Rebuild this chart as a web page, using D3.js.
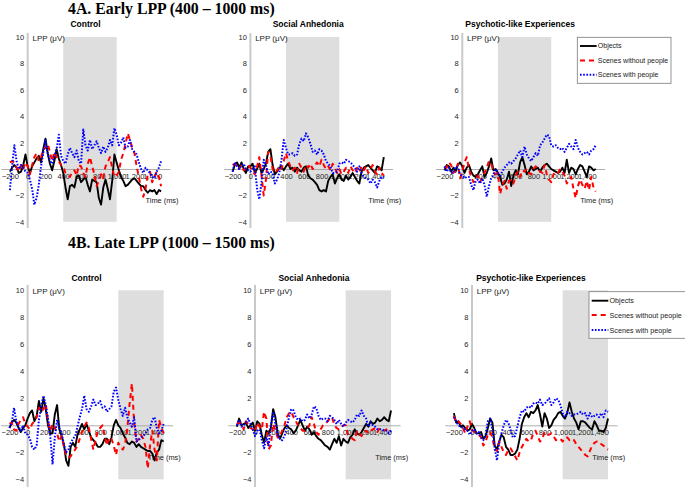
<!DOCTYPE html>
<html><head><meta charset="utf-8">
<script src="https://cdn.jsdelivr.net/npm/d3@7"></script>
<style>body{margin:0;background:#fff} svg{display:block}</style>
</head><body><svg id="c" width="685" height="487"></svg>
<script>
// ---------------- data ----------------
const times = [-200,-175,-150,-125,-100,-75,-50,-25,0,25,50,75,100,125,150,175,200,225,250,275,300,325,350,375,400,425,450,475,500,525,550,575,600,625,650,675,700,725,750,775,800,825,850,875,900,925,950,975,1000,1025,1050,1075,1100,1125,1150,1175,1200,1225,1250,1275,1300,1325,1350,1375,1400,1425,1450,1475,1500];
const groups = ["Control", "Social Anhedonia", "Psychotic-like Experiences"];
const conditions = ["Objects", "Scenes without people", "Scenes with people"];
const rowTitles = ["4A. Early LPP (400 \u2013 1000 ms)", "4B. Late LPP (1000 \u2013 1500 ms)"];
const xTicks = [-200,0,200,400,600,800,1000,1200,1400];
const yTicks = [-4,-2,2,4,6,8,10];
const earlyWindow = [400, 1000];
const lateWindow = [1000, 1500];
const yLabel = "LPP (\u03bcV)";
const xLabel = "Time (ms)";

const earlyControlObjects = [-0.2,0.1,0.3,0.1,-0.3,-0.2,0.3,1.1, 0.2,-0.3,0.2,0.5,0.8,1.0,0.5,1.5, 2.3,1.2,0.4,-0.1,0.6,1.5,0.8,0.3, -0.3,-1.4,-2.3,-1.3,-1.2,-1.4,-0.6,-0.5, -1.0,-0.8,-0.6,-1.2,-1.7,-0.8,-0.9,-1.0, -2.2,-2.7,-1.4,-0.8,-1.5,-2.3,-0.9,1.1, 0.5,-0.1,-0.6,-0.9,-1.3,-1.2,-1.0,-0.8, -0.7,-0.9,-1.1,-1.3,-1.3,-1.6,-1.8,-1.6, -1.7,-1.6,-1.9,-1.6,-1.7];
const earlyControlNoPeople = [0.5,0.6,0.5,0.1,-0.2,0.3,0.0,0.5, 0.2,-0.4,0.3,0.9,1.2,0.6,0.9,1.5, 1.6,1.9,1.3,0.6,1.3,0.9,0.6,0.3, 0.2,-0.3,-0.5,-0.6,-0.2,-0.1,-0.5,0.3, 0.2,-0.3,-0.6,0.4,0.9,0.2,-0.4,-1.3, -0.9,-0.4,-0.7,0.2,0.5,0.9,0.1,-0.6, -0.5,-0.2,0.7,1.2,1.9,2.7,2.2,1.6, 1.2,0.2,-0.6,-1.5,-2.1,-1.5,-0.4,-0.2, -1.0,-0.6,-0.2,-0.6,-1.3];
const earlyControlPeople = [-1.6,0.2,1.8,0.6,0.0,0.3,0.1,-0.2, -0.3,-0.8,-1.5,-2.7,-2.2,-1.2,0.2,1.2, 2.2,1.2,0.6,0.4,1.0,1.5,2.6,1.0, 0.6,0.4,1.1,1.6,1.2,0.9,1.4,0.6, 0.4,3.0,1.8,1.4,2.2,1.5,1.8,2.1, 1.6,1.2,1.7,1.3,1.6,2.2,1.8,3.1, 2.6,1.8,2.0,2.4,1.6,1.7,2.2,1.5, 1.3,1.1,0.5,0.0,-0.3,0.1,-0.1,-0.3, -0.6,-0.7,-0.2,0.1,0.6];

const earlySAObjects = [-0.2,0.3,0.5,0.1,0.5,0.0,-0.3,0.2, 0.2,0.4,-0.3,0.0,0.4,-0.3,0.0,0.4, 1.3,1.5,0.3,-0.4,-0.2,0.1,0.2,-0.1, 0.2,0.4,0.0,0.1,-0.2,0.1,-0.1,-0.2, 0.1,0.2,-0.5,-0.7,-0.8,-1.0,-1.2,-1.6, -1.7,-1.6,-1.7,-0.9,-0.6,-0.4,-1.1,-0.7, -0.4,-0.8,-0.9,-0.5,-0.8,-0.6,-0.3,-0.6, -0.9,-1.1,-0.2,0.1,0.2,0.3,0.1,-0.1, -0.3,0.2,0.1,-0.1,0.9];
const earlySANoPeople = [0.3,0.4,0.2,0.0,0.3,-0.1,0.1,0.3, 0.1,-0.2,-0.4,0.2,0.9,-0.5,-2.0,-0.8, 1.3,1.0,0.0,-0.3,-0.1,0.2,0.0,0.6, 1.2,0.6,0.2,-0.1,0.1,-0.3,0.4,0.1, -0.2,0.3,0.1,0.4,0.0,0.3,0.5,0.2, 0.7,0.3,0.0,0.2,-0.1,0.4,0.1,-0.3, 0.0,-0.4,-0.2,0.1,-0.3,0.2,-0.1,-0.3, 0.1,-0.2,0.2,-0.1,0.2,-0.3,0.0,0.3, -0.2,-0.4,0.1,-0.3,-0.5];
const earlySAPeople = [-0.2,0.5,0.2,0.0,0.3,0.4,0.0,-0.1, -0.2,0.0,0.2,-1.5,-2.3,-1.0,0.7,0.3, -0.4,-0.2,-0.3,-1.1,-0.8,-0.3,0.7,2.2, 1.6,1.1,1.1,1.2,1.0,1.1,1.9,2.3, 2.1,2.7,2.4,1.9,1.3,1.4,1.1,1.5, 1.4,1.1,0.6,0.4,0.2,-0.3,-0.3,-0.2, 0.4,0.5,0.4,0.7,0.6,0.5,0.3,0.1, -0.2,0.2,-0.3,-0.6,-0.7,-0.8,-1.1,-0.8, -1.0,-1.4,-0.9,-0.6,-0.6];

const earlyPLEObjects = [-0.1,0.3,0.2,-0.2,0.1,-0.2,0.3,0.5, 0.2,-0.3,0.1,0.3,-0.2,-0.5,-0.6,-0.4, -0.1,0.2,-0.6,-0.3,0.2,0.8,-0.1,0.0, -0.3,-0.6,-1.2,-1.1,-0.8,-0.2,-1.3,-0.5, -0.1,-0.4,0.5,0.9,0.3,-0.4,-0.2,0.2, -0.1,0.0,0.1,-0.2,0.1,0.3,0.4,0.2, 0.0,-0.1,-0.2,-0.3,-0.2,0.1,-0.3,0.7, -0.3,0.1,0.0,-0.4,0.0,0.3,0.2,-0.2, -0.6,0.2,0.1,-0.1,0.0];
const earlyPLENoPeople = [0.2,0.1,0.5,0.3,-0.3,-0.1,0.4,-0.7, -0.2,0.5,0.9,0.0,-0.6,-1.0,-0.8,-0.5, -1.0,-0.6,-0.3,0.1,0.6,0.4,-0.2,-0.4, -0.3,-1.9,-1.2,-0.9,-1.5,-0.9,-0.8,-1.1, -0.5,-0.2,-0.6,-0.1,-0.2,0.0,-0.3,-0.4, 0.0,0.2,0.1,-0.2,-0.3,0.3,-0.4,-0.8, -1.0,-0.4,-0.2,-0.3,0.0,-0.2,-0.5,-1.1, -0.8,-0.6,-1.5,-2.2,-1.3,-0.8,-1.2,-1.5, -0.9,-1.6,-0.6,-1.4,-1.7];
const earlyPLEPeople = [0.2,-0.2,0.1,-0.3,-0.3,0.2,0.1,-0.4, -0.5,-0.7,-0.6,-0.6,-1.2,-1.6,-0.9,-0.8, -1.1,-0.7,-1.2,-2.1,-1.3,-0.7,-0.4,0.0, -0.3,-0.5,-0.2,0.1,0.3,0.5,0.4,0.6, 0.8,1.1,1.4,0.9,1.7,1.1,0.8,0.6, 0.9,1.2,1.0,1.8,2.0,2.3,2.6,2.5, 1.8,1.7,1.8,1.6,1.5,1.6,1.3,1.6, 1.9,1.7,1.5,2.2,1.6,1.3,1.1,1.2, 1.3,1.1,1.4,1.5,1.8];

const lateControlObjects = [-0.2,0.2,0.4,0.2,-0.2,-0.5,-0.2,0.0, 0.5,0.9,1.1,0.3,0.7,1.8,1.0,2.0, 1.2,0.0,-0.6,-0.6,0.8,1.5,-0.3,-0.8, -1.4,-2.6,-3.0,-1.6,-1.3,-1.6,-0.7,-0.3, 0.1,-0.3,0.1,-0.4,-0.9,-1.1,-1.3,-1.6, -1.6,-1.4,-1.0,-1.0,-1.4,-0.9,0.0,0.4, 0.0,-0.2,-0.6,-0.9,-1.3,-1.4,-1.2,-1.3, -1.6,-1.4,-1.6,-1.7,-1.8,-1.9,-1.9,-2.1, -2.6,-2.0,-1.8,-1.1,-1.2];
const lateControlNoPeople = [0.1,0.2,-0.3,-0.4,0.1,0.4,0.6,0.1, -0.1,-0.3,0.1,0.3,0.6,1.3,1.0,1.2, 1.6,0.3,-0.4,0.1,-0.2,-0.6,-1.2,-0.8, -1.6,-2.2,-2.4,-2.3,-2.0,-1.8,-1.5,-1.0, -0.5,-0.1,0.2,-0.2,-1.0,-1.8,-1.1,-0.4, -0.2,0.0,-0.8,-1.5,-0.9,-1.0,-1.5,-2.2, -1.3,-1.6,-1.8,-1.4,-0.2,1.6,3.1,0.2, -1.2,-1.0,-0.7,-1.0,-1.6,-3.2,-1.5,-0.4, -1.8,-2.6,0.4,-0.2,-0.6];
const lateControlPeople = [-0.2,0.2,1.3,0.3,-0.1,-0.4,0.0,-0.6, -0.7,-1.0,-1.6,-1.8,-1.5,0.4,1.4,2.2, 1.5,0.5,-0.8,-2.9,-0.9,0.4,-0.2,-0.6, -1.4,-2.0,-1.8,-1.3,-1.0,-0.8,-0.1,0.6, 1.2,2.2,1.2,1.0,1.4,1.9,1.5,1.6, 1.8,1.3,1.4,1.0,1.2,1.4,2.5,2.8, 1.9,1.2,0.7,1.3,0.6,0.2,-0.1,0.6, -1.2,-1.1,-0.9,-0.8,-0.6,-0.3,-0.2,0.4, 0.6,-0.2,-0.6,-0.4,0.1];

const lateSAObjects = [-0.1,0.5,0.0,0.1,0.2,-0.2,0.0,0.2, -0.4,0.3,0.1,-0.7,-1.3,-0.4,-0.6,-0.2, 1.2,0.6,-0.6,-1.0,-0.6,-0.2,0.0,-0.2, -0.3,-0.6,-0.4,0.0,0.4,0.0,-0.4,-0.1, -0.3,-0.7,-0.5,-0.8,-1.0,-1.1,-1.3,-1.5, -1.6,-1.8,-1.4,-1.0,-1.3,-0.8,-1.5,-1.0, -1.2,-1.3,-0.9,-0.7,-0.3,-0.6,-0.7,-0.5, -0.2,0.1,-0.1,0.3,0.1,0.2,0.5,0.3, 0.4,0.6,0.4,0.3,1.1];
const lateSANoPeople = [0.1,0.2,0.1,-0.3,0.3,0.1,-0.2,-0.3, -0.5,0.2,-0.1,-0.3,1.0,0.5,-1.8,-1.5, 0.1,-0.4,-0.9,-0.8,-0.4,0.0,0.6,0.9, 1.0,0.6,0.3,0.0,-0.2,-0.4,-0.4,-0.2, 0.0,0.6,0.1,-0.5,-0.7,-0.3,0.0,0.1, 0.3,0.5,0.6,0.0,-0.2,-0.3,-0.1,0.0, 0.0,-0.7,-0.8,-1.0,-1.1,-0.4,-0.6,-0.8, -0.5,-0.4,-0.6,-0.4,-0.3,-0.2,-0.5,-0.2, -0.3,-0.4,-0.3,-0.5,-0.4];
const lateSAPeople = [0.0,0.4,-0.1,0.0,0.2,0.5,0.1,-0.3, -0.8,-0.4,-0.3,-1.1,-1.7,-0.9,-1.5,0.0, 1.0,0.1,-0.7,-1.0,-1.1,-0.8,-0.2,0.6, 1.2,1.1,0.6,0.4,0.5,0.3,0.4,0.8, 0.5,0.8,1.4,1.3,0.7,0.4,0.5,0.5, 0.3,0.7,0.6,0.4,0.1,0.4,0.1,-0.1, 0.2,0.4,0.3,0.2,0.4,0.8,0.7,1.1, 0.7,0.5,-0.1,0.2,0.0,-0.1,-0.3,-0.3, -0.3,-0.4,-0.4,-0.6,-0.4];

const latePLEObjects = [0.9,0.2,0.3,-0.1,0.0,-0.2,-0.4,-0.3, 0.1,-0.2,-0.6,-0.6,-0.5,-1.0,-0.8,-0.2, 0.5,0.2,-1.5,-1.8,-1.2,-0.7,-0.9,-1.6, -1.8,-2.2,-2.2,-2.1,-1.8,-1.0,0.1,0.6, 0.9,0.6,1.0,0.9,1.1,1.5,0.8,-0.1, 0.9,0.5,-0.2,0.0,0.4,0.6,0.9,1.0, 0.7,0.5,0.9,1.7,1.0,0.5,0.2,-0.3, 0.3,0.3,0.2,0.0,-0.2,-0.3,0.3,0.0, -0.4,-0.4,-0.5,-0.2,0.5];
const latePLENoPeople = [0.7,0.2,0.3,0.1,-0.2,-0.6,-0.1,0.3, -0.3,-0.5,-0.6,-0.7,-0.9,-1.5,-1.2,-0.7, -0.5,-0.9,-1.8,-1.9,-1.2,-1.6,-2.0,-2.2, -1.8,-1.7,-2.0,-2.3,-2.6,-2.0,-1.6,-1.3, -1.0,-1.2,-1.1,-0.6,-0.4,-0.8,-1.2,-1.0, -0.5,-0.7,-0.7,-0.6,-0.8,-1.1,-1.0,-1.0, -1.2,-0.9,-0.9,-1.1,-1.0,-1.1,-1.4,-1.6, -1.8,-2.0,-2.2,-2.3,-1.9,-1.5,-1.3,-1.2, -1.2,-1.4,-1.5,-1.7,-1.8];
const latePLEPeople = [0.6,0.3,0.0,-0.1,-0.2,-0.3,-0.4,-0.7, -0.4,-0.3,-0.6,-0.5,-0.9,-1.1,-0.7,0.3, 0.5,-0.3,-1.7,-2.6,-1.3,-0.6,0.0,0.4, 0.2,-0.3,-0.9,-0.8,-0.1,0.6,1.1,1.0, 1.3,1.4,1.3,1.6,1.7,1.6,1.9,1.5, 1.6,1.8,2.0,1.5,1.7,2.0,1.9,1.5, 0.9,0.6,1.0,0.9,0.7,0.8,0.8,0.9, 1.0,0.8,0.9,0.5,0.9,0.6,0.7,0.8, 0.6,0.9,0.6,1.1,1.0];

// ---------------- layout / style ----------------
const sans = "'Liberation Sans', Arial, Helvetica, sans-serif";
const serif = "'Liberation Serif', 'Times New Roman', serif";
const lineStyles = [
  {color: "#000000", width: 1.9, dash: null},
  {color: "#ff0000", width: 2.0, dash: "5,4"},
  {color: "#0000ff", width: 2.0, dash: "1.6,1.6"}
];

const rows = [
  {
    title: rowTitles[0], titleY: 13.5, panelTitleY: 26.8,
    windowMs: earlyWindow,
    yRange: [221.8, 37], axisExt: [-4.47, 10.3],
    lefts: [1, 223.7, 435.6], width: 169,
    series: [
      [earlyControlObjects, earlyControlNoPeople, earlyControlPeople],
      [earlySAObjects, earlySANoPeople, earlySAPeople],
      [earlyPLEObjects, earlyPLENoPeople, earlyPLEPeople]
    ],
    legend: {x: 577.3, y: 37.3, w: 93.7, h: 46, rowY: [8.7, 23.2, 37.4], fs: 7}
  },
  {
    title: rowTitles[1], titleY: 248.3, panelTitleY: 280.7,
    windowMs: lateWindow,
    yRange: [479.3, 290.3], axisExt: [-4.6, 10.4],
    lefts: [0.4, 227.8, 444.8], width: 172.3,
    series: [
      [lateControlObjects, lateControlNoPeople, lateControlPeople],
      [lateSAObjects, lateSANoPeople, lateSAPeople],
      [latePLEObjects, latePLENoPeople, latePLEPeople]
    ],
    legend: {x: 589, y: 291.7, w: 100, h: 46.6, rowY: [9, 23.3, 38.3], fs: 7.2}
  }
];

const svg = d3.select("#c");
svg.append("rect").attr("width", 685).attr("height", 487).attr("fill", "#fff");

rows.forEach((row, ri) => {
  svg.append("text")
    .attr("x", 68).attr("y", row.titleY)
    .attr("font-family", serif).attr("font-weight", "bold").attr("font-size", 15.8)
    .attr("fill", "#000")
    .text(row.title);

  const y = d3.scaleLinear().domain([-4, 10]).range(row.yRange);

  groups.forEach((g, gi) => {
    const x = d3.scaleLinear().domain([-300, 1600])
      .range([row.lefts[gi], row.lefts[gi] + row.width]);
    const panel = svg.append("g");

    // shaded analysis window
    panel.append("rect")
      .attr("x", x(row.windowMs[0])).attr("width", x(row.windowMs[1]) - x(row.windowMs[0]))
      .attr("y", y(10)).attr("height", y(-4) - y(10))
      .attr("fill", "#dedede");

    // panel title
    panel.append("text")
      .attr("x", (x(-300) + x(1600)) / 2).attr("y", row.panelTitleY)
      .attr("text-anchor", "middle")
      .attr("font-family", sans).attr("font-weight", "bold").attr("font-size", 8.5)
      .text(g);

    // y axis
    panel.append("line")
      .attr("x1", x(0)).attr("x2", x(0))
      .attr("y1", y(row.axisExt[1])).attr("y2", y(row.axisExt[0]))
      .attr("stroke", "#c9c9c9").attr("stroke-width", 2);
    const ya = panel.append("g").attr("transform", `translate(${x(0)},0)`)
      .call(d3.axisLeft(y).tickValues(yTicks).tickSize(0).tickPadding(3.5));
    ya.select(".domain").remove();
    ya.selectAll("text").attr("font-family", sans).attr("font-size", 7.5).attr("fill", "#262626");

    // x axis along zero
    const xa = panel.append("g").attr("transform", `translate(0,${y(0)})`)
      .call(d3.axisBottom(x).tickValues(xTicks).tickSize(0).tickSizeOuter(0).tickPadding(4.2));
    xa.select(".domain").attr("stroke", "#9a9a9a").attr("stroke-width", 0.8);
    xa.selectAll("text").attr("font-family", sans).attr("font-size", 7.5).attr("fill", "#262626");

    // axis labels
    panel.append("text")
      .attr("x", x(0) + 4.8).attr("y", y(10) + 3.6)
      .attr("font-family", sans).attr("font-size", 8).attr("fill", "#1a1a1a")
      .text(yLabel);
    panel.append("text")
      .attr("x", x(1325)).attr("y", y(-2.55))
      .attr("font-family", sans).attr("font-size", 7.4).attr("fill", "#1a1a1a")
      .text(xLabel);

    // data lines
    row.series[gi].forEach((vals, si) => {
      const st = lineStyles[si];
      const line = d3.line().x((d, i) => x(times[i])).y(d => y(d));
      panel.append("path")
        .datum(vals)
        .attr("d", line)
        .attr("fill", "none")
        .attr("stroke", st.color)
        .attr("stroke-width", st.width)
        .attr("stroke-linejoin", "round")
        .attr("stroke-dasharray", st.dash);
    });
  });

  // legend
  const L = row.legend;
  const lg = svg.append("g").attr("transform", `translate(${L.x},${L.y})`);
  lg.append("rect").attr("width", L.w).attr("height", L.h)
    .attr("fill", "#fff").attr("stroke", "#7a7a7a").attr("stroke-width", 0.8);
  conditions.forEach((c, ci) => {
    const st = lineStyles[ci];
    lg.append("line")
      .attr("x1", 2.7).attr("x2", 19.3)
      .attr("y1", L.rowY[ci]).attr("y2", L.rowY[ci])
      .attr("stroke", st.color).attr("stroke-width", st.width)
      .attr("stroke-dasharray", st.dash);
    lg.append("text")
      .attr("x", 20.5).attr("y", L.rowY[ci]).attr("dy", "0.35em")
      .attr("font-family", sans).attr("font-size", L.fs).attr("fill", "#1a1a1a")
      .text(c);
  });
});
</script>
</body></html>
